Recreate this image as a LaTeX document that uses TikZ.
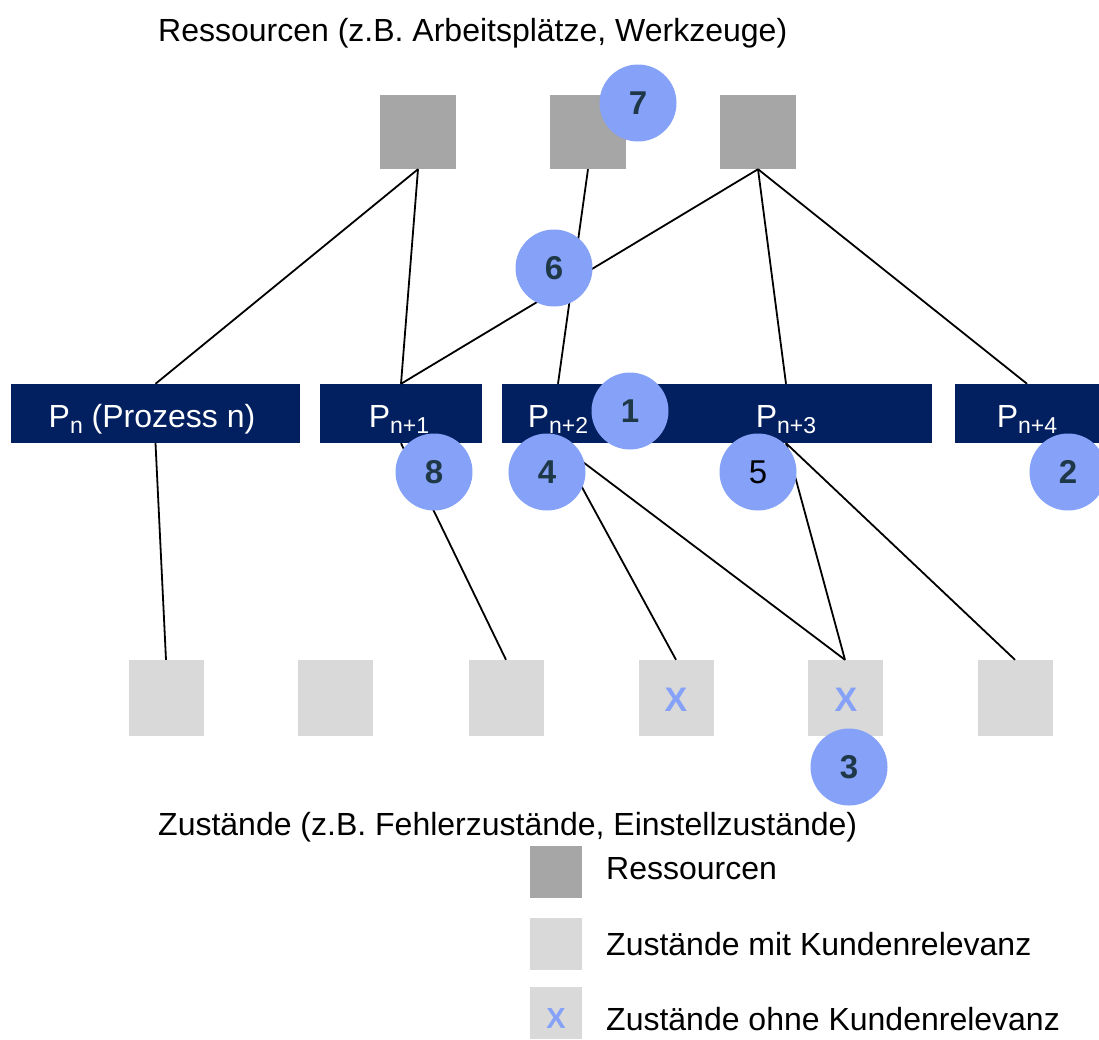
\documentclass[tikz,border=0pt]{standalone}
\usepackage{fontspec}
\setmainfont{Liberation Sans}
\definecolor{navy}{RGB}{2,32,96}
\definecolor{resgray}{RGB}{166,166,166}
\definecolor{stgray}{RGB}{217,217,217}
\definecolor{cblue}{RGB}{133,161,248}
\definecolor{numcol}{RGB}{31,56,72}
\newcommand\psub[1]{P\raisebox{-6pt}{\fontsize{23}{23}\selectfont #1}}
\tikzset{
  resbox/.style={fill=resgray, minimum width=76pt, minimum height=74pt, inner sep=0pt},
  stbox/.style={fill=stgray, minimum width=75pt, minimum height=76pt, inner sep=0pt},
  procbox/.style={fill=navy, minimum height=59pt, inner sep=0pt},
  proctext/.style={text=white, font=\fontsize{32}{32}\selectfont, inner sep=0pt, anchor=base},
  numc/.style={circle, fill=cblue, minimum size=77pt, inner sep=0pt, text=numcol,
     font=\fontsize{33}{33}\selectfont\bfseries},
  link/.style={line width=1.8pt, black},
  lbl/.style={font=\fontsize{32}{32}\selectfont, inner sep=0pt, anchor=base west},
  xmark/.style={font=\fontsize{34}{34}\selectfont\bfseries, text=cblue, inner sep=0pt},
  legres/.style={fill=resgray, minimum width=52pt, minimum height=52pt, inner sep=0pt},
  legst/.style={fill=stgray, minimum width=52pt, minimum height=52pt, inner sep=0pt}
}
\begin{document}
\begin{tikzpicture}[x=1pt,y=-1pt]
\useasboundingbox (0,0) rectangle (1099,1039);
\clip (0,0) rectangle (1099,1039);

% titles
\node[lbl] (title) at (158,41) {Ressourcen (z.B.\ Arbeitsplätze, Werkzeuge)};
\node[lbl] (subtitle) at (158,835) {Zustände (z.B.\ Fehlerzustände, Einstellzustände)};

% resources
\node[resbox] (R1) at (418,132) {};
\node[resbox] (R2) at (588,132) {};
\node[resbox] (R3) at (758,132) {};

% processes
\node[procbox, minimum width=289pt] (Pn) at (155.5,413.5) {};
\node[proctext] (Pnt) at (152,427) {\psub{n} (Prozess n)};
\node[procbox, minimum width=162pt] (Pn1) at (401,413.5) {};
\node[proctext] (Pn1t) at (399,427) {\psub{n+1}};
\node[procbox, minimum width=430pt] (P23) at (717,413.5) {};
\node[proctext] (P2t) at (558,427) {\psub{n+2}};
\node[proctext] (P3t) at (786,427) {\psub{n+3}};
\node[procbox, minimum width=144pt] (P4) at (1027,413.5) {};
\node[proctext] (P4t) at (1027,427) {\psub{n+4}};

% states
\node[stbox] (S1) at (166,698) {};
\node[stbox] (S2) at (335,698) {};
\node[stbox] (S3) at (506,698) {};
\node[stbox] (S4) at (676,698) {};
\node[stbox] (S5) at (845,698) {};
\node[stbox] (S6) at (1015,698) {};
\node[xmark] (X4) at (676,700) {X};
\node[xmark] (X5) at (846,700) {X};

% connectors
\draw[link] (R1.south) -- (Pn.north);
\draw[link] (R1.south) -- (Pn1.north);
\draw[link] (R2.south) -- (P2t |- P23.north);
\draw[link] (R3.south) -- (Pn1.north);
\draw[link] (R3.south) -- (P3t |- P23.north);
\draw[link] (R3.south) -- (P4.north);
\draw[link] (Pn.south) -- (S1.north);
\draw[link] (Pn1.south) -- (S3.north);
\draw[link] (P2t |- P23.south) -- (S4.north);
\draw[link] (P2t |- P23.south) -- (S5.north);
\draw[link] (P3t |- P23.south) -- (S5.north);
\draw[link] (P3t |- P23.south) -- (S6.north);

% numbered circles
\node[numc] (c7) at (638,103) {7};
\node[numc] (c6) at (554,268) {6};
\node[numc] (c1) at (630,411) {1};
\node[numc] (c8) at (434,472) {8};
\node[numc] (c4) at (547,472) {4};
\node[numc, font=\fontsize{33}{33}\selectfont, text=black] (c5) at (758,472) {5};
\node[numc] (c2) at (1068,472) {2};
\node[numc] (c3) at (849,767) {3};

% legend
\node[legres] (L1) at (556,872) {};
\node[legst] (L2) at (556,944) {};
\node[legst] (L3) at (556,1013) {};
\node[xmark, font=\fontsize{29}{29}\selectfont\bfseries] (L3x) at (556,1019) {X};
\node[lbl] (L1t) at (606,879) {Ressourcen};
\node[lbl] (L2t) at (606,955) {Zustände mit Kundenrelevanz};
\node[lbl] (L3t) at (606,1030) {Zustände ohne Kundenrelevanz};
\end{tikzpicture}
\end{document}
